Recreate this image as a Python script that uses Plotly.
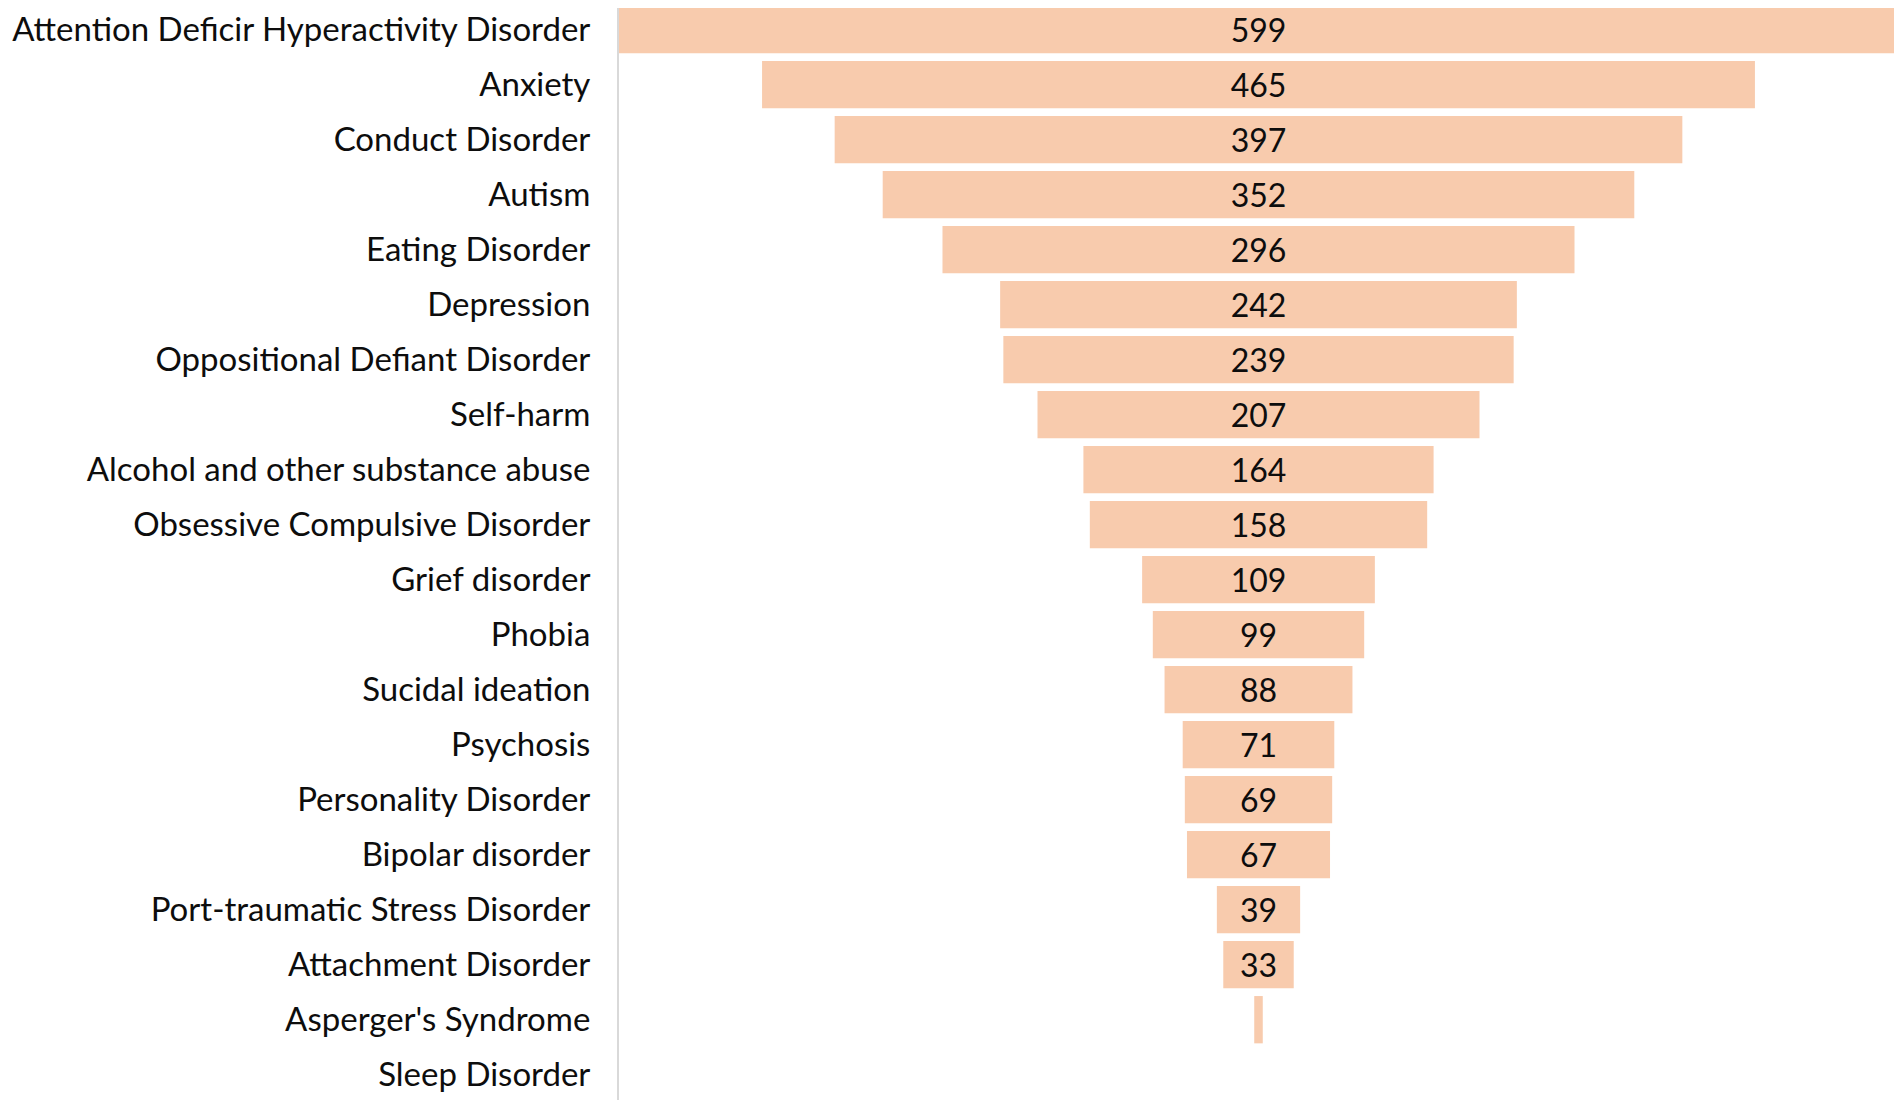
import plotly.graph_objects as go

# disorders, most frequent first
disorders = [
    "Attention Deficir Hyperactivity Disorder",
    "Anxiety",
    "Conduct Disorder",
    "Autism",
    "Eating Disorder",
    "Depression",
    "Oppositional Defiant Disorder",
    "Self-harm",
    "Alcohol and other substance abuse",
    "Obsessive Compulsive Disorder",
    "Grief disorder",
    "Phobia",
    "Sucidal ideation",
    "Psychosis",
    "Personality Disorder",
    "Bipolar disorder",
    "Port-traumatic Stress Disorder",
    "Attachment Disorder",
    "Asperger's Syndrome",
    "Sleep Disorder",
]
counts = [599, 465, 397, 352, 296, 242, 239, 207, 164, 158,
          109, 99, 88, 71, 69, 67, 39, 33, 4, 0]

# only label the bars that are wide enough
labels = [str(c) if c >= 10 else "" for c in counts]

fig = go.Figure(go.Funnel(
    y=disorders,
    x=counts,
    text=labels,
    textinfo="text",
    textposition="inside",
    insidetextanchor="middle",
    textfont=dict(size=32, color="#0d0d0d"),
    marker=dict(color="#f8cbad", line=dict(width=0)),
    connector=dict(visible=False),
    hoverinfo="y+x",
))

# page body has an 8px margin, so the figure is a bit smaller than the window
fig.update_layout(
    width=1894,
    height=1092,
    margin=dict(l=611, r=4, t=0, b=0),
    paper_bgcolor="white",
    plot_bgcolor="white",
    font=dict(family="Lato, Open Sans, sans-serif", size=33, color="#0d0d0d"),
    funnelgap=0.14,
    showlegend=False,
)
fig.update_xaxes(visible=False, range=[-299.5, 299.5])
fig.update_yaxes(
    range=[19.46, -0.395],
    autorange=False,
    showline=True,
    linecolor="#d9d9d9",
    linewidth=2,
    showgrid=False,
    ticks="",
    ticklabelstandoff=20,
    tickfont=dict(size=33, color="#0d0d0d"),
)

fig.write_html("out.html")
